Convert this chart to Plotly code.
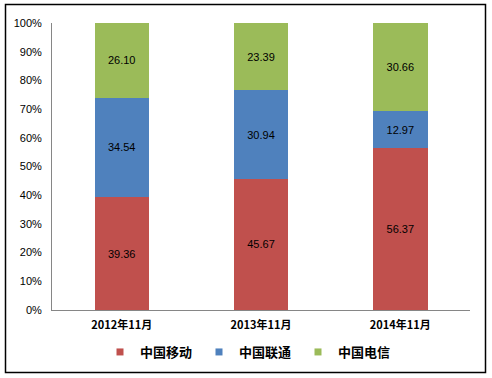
import plotly.graph_objects as go

categories = ["2012年11月", "2013年11月", "2014年11月"]
series_names = ["中国移动", "中国联通", "中国电信"]
mobile = [39.36, 45.67, 56.37]
unicom = [34.54, 30.94, 12.97]
telecom = [26.10, 23.39, 30.66]
colors = ["#C0504D", "#4F81BD", "#9BBB59"]
tick_vals = [0, 10, 20, 30, 40, 50, 60, 70, 80, 90, 100]
tick_text = ["0%", "10%", "20%", "30%", "40%", "50%", "60%", "70%", "80%", "90%", "100%"]

W, H = 492, 378
L, R, T, B = 52, 22, 23, 68

fig = go.Figure()
for name, vals, col in zip(series_names, [mobile, unicom, telecom], colors):
    fig.add_trace(go.Bar(
        x=categories, y=vals, name=name, marker_color=col,
        marker_line_width=0, showlegend=False,
        text=[f"{v:.2f}" for v in vals], textposition="inside",
        insidetextanchor="middle",
        textfont=dict(family="Liberation Sans, Arial", size=11, color="#000000"),
        width=0.39,
    ))
# legend-only entries with small square swatches
for name, col in zip(series_names, colors):
    fig.add_trace(go.Scatter(
        x=[None], y=[None], mode="markers", name=name,
        marker=dict(symbol="square", size=7, color=col), showlegend=True,
    ))

pw = W - L - R
ph = H - T - B
def px_x(p):
    return (p - L) / pw
def px_y(p):
    return 1 - (p - T) / ph

fig.update_layout(
    width=W, height=H, barmode="stack",
    margin=dict(l=L, r=R, t=T, b=B, autoexpand=False),
    paper_bgcolor="white", plot_bgcolor="white",
    showlegend=True,
    legend=dict(orientation="h", x=px_x(100), xanchor="left", y=px_y(352), yanchor="middle",
                traceorder="normal", entrywidth=54, entrywidthmode="pixels",
                font=dict(family="Noto Sans CJK SC", size=13, color="#000000", weight="bold"),
                itemwidth=30, tracegroupgap=0, bgcolor="rgba(0,0,0,0)"),
    xaxis=dict(showline=True, linecolor="#868686", linewidth=1, showgrid=False,
               ticks="", ticklabelstandoff=5,
               tickfont=dict(family="Noto Sans CJK SC", size=11, color="#000000", weight="bold")),
    yaxis=dict(range=[0, 100], tickvals=tick_vals, ticktext=tick_text,
               showline=True, linecolor="#868686", linewidth=1, showgrid=False,
               ticks="", zeroline=False, ticklabelstandoff=7,
               tickfont=dict(family="Liberation Sans, Arial", size=11, color="#000000")),
    shapes=[dict(type="rect", xref="paper", yref="paper",
                 x0=px_x(5.5), x1=px_x(485.5), y0=px_y(372.5), y1=px_y(4.5),
                 line=dict(color="#000000", width=1.5), fillcolor="rgba(0,0,0,0)", layer="below")],
)

fig.write_html("out.html", config={"displayModeBar": False},
               post_script="document.body.style.margin='0';document.body.style.overflow='hidden';")
